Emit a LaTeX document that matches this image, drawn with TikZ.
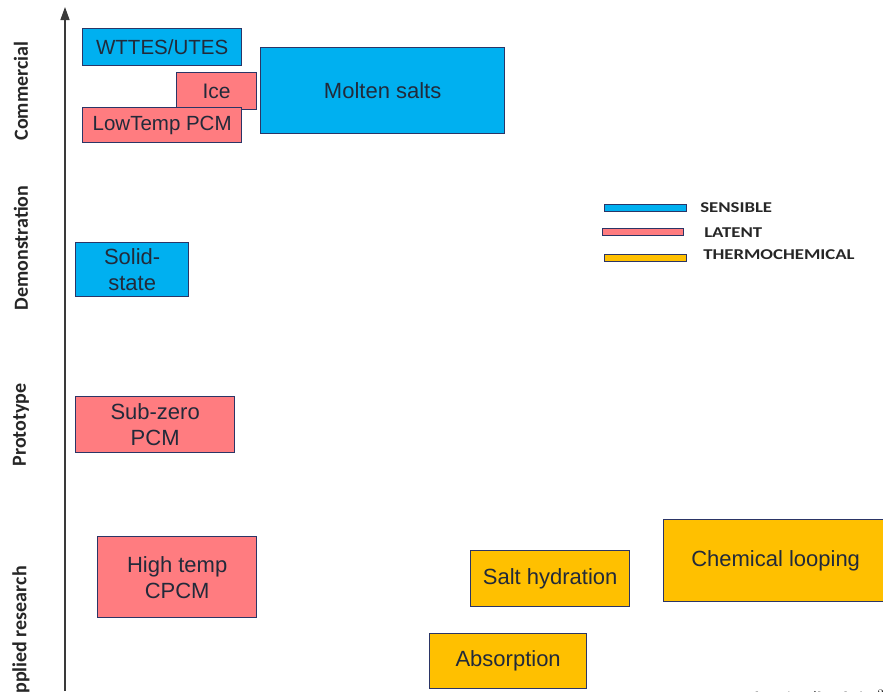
\documentclass[tikz,border=0pt]{standalone}
\usepackage{fontspec}
\setmainfont{Liberation Sans}
\newfontfamily\labelfont{Carlito}
\usetikzlibrary{arrows.meta}
\definecolor{sens}{HTML}{00B0F0}
\definecolor{lat}{HTML}{FF7C80}
\definecolor{thermo}{HTML}{FFC000}
\definecolor{edge}{HTML}{2B3566}
\definecolor{ink}{HTML}{222A3A}
\definecolor{labelink}{HTML}{262626}
\definecolor{axisgray}{HTML}{3A3A3A}

\begin{document}
\begin{tikzpicture}[x=1pt,y=-1pt,
  tes/.style={draw=edge, line width=1.3pt, text=ink, anchor=north west,
    font=\fontsize{22}{26}\selectfont, align=center, inner sep=0pt},
  small/.style={font=\fontsize{20.5}{24}\selectfont},
  levellabel/.style={rotate=90, text=labelink, inner sep=0pt,
    font=\labelfont\bfseries\fontsize{20}{23}\selectfont},
  keybar/.style={draw=edge, line width=1pt, anchor=west, inner sep=0pt,
    minimum height=7pt},
  keytext/.style={anchor=west, text=labelink, inner sep=0pt, xscale=1.25,
    font=\labelfont\bfseries\fontsize{15}{17}\selectfont}]

\useasboundingbox (0,0) rectangle (883,691);
\clip (0,0) rectangle (883,691);

% vertical axis: technology readiness
\coordinate (axbot) at (65,691);
\coordinate (axtop) at (65,7);
\draw[axisgray, line width=1.3pt, -{Triangle[width=9pt,length=13pt]}] (axbot) -- (axtop);

% readiness levels
\node[levellabel] (commercial) at (21,91) {Commercial};
\node[levellabel] (demo) at (21,248) {Demonstration};
\node[levellabel] (proto) at (21,425) {Prototype};
\node[levellabel] (applied) at (21,636) {Applied research};

% storage technologies
\node[tes, small, fill=sens, minimum width=159pt, minimum height=37pt] (wttes) at (82,28) {WTTES/UTES};
\node[tes, fill=lat, font=\fontsize{21}{24}\selectfont, minimum width=80pt, minimum height=37pt] (ice) at (176,72) {Ice};
\node[tes, small, fill=lat, minimum width=159pt, minimum height=35pt] (lowtemp) at (82,107) {LowTemp PCM};
\node[tes, fill=sens, minimum width=244pt, minimum height=86pt] (molten) at (260,47) {Molten salts};
\node[tes, fill=sens, minimum width=113pt, minimum height=54pt] (solid) at (75,242) {Solid-\\state};
\node[tes, fill=lat, minimum width=159pt, minimum height=56pt] (subzero) at (75,396) {Sub-zero\\PCM};
\node[tes, fill=lat, minimum width=159pt, minimum height=81pt] (hightemp) at (97,536) {High temp\\CPCM};
\node[tes, fill=thermo, minimum width=159pt, minimum height=56pt] (salthyd) at (470,550) {Salt hydration};
\node[tes, fill=thermo, minimum width=224pt, minimum height=82pt] (chemloop) at (663,519) {Chemical looping};
\node[tes, fill=thermo, minimum width=157pt, minimum height=55pt] (absorp) at (429,633) {Absorption};

% key
\node[keybar, fill=sens, minimum width=82pt] (keysens) at (604,207.5) {};
\node[keybar, fill=lat, minimum width=81pt] (keylat) at (602,231.5) {};
\node[keybar, fill=thermo, minimum width=82pt] (keythermo) at (604,257.5) {};
\node[keytext] (txtsens) at (700,208) {SENSIBLE};
\node[keytext] (txtlat) at (704,233) {LATENT};
\node[keytext] (txtthermo) at (703,255) {THERMOCHEMICAL};

% horizontal axis title
\node[anchor=north west, inner sep=0pt, text=labelink,
  font=\labelfont\bfseries\fontsize{19}{22}\selectfont] (xtitle) at (691,690) {Energy density (kWh/m$^3$)};
\end{tikzpicture}
\end{document}
